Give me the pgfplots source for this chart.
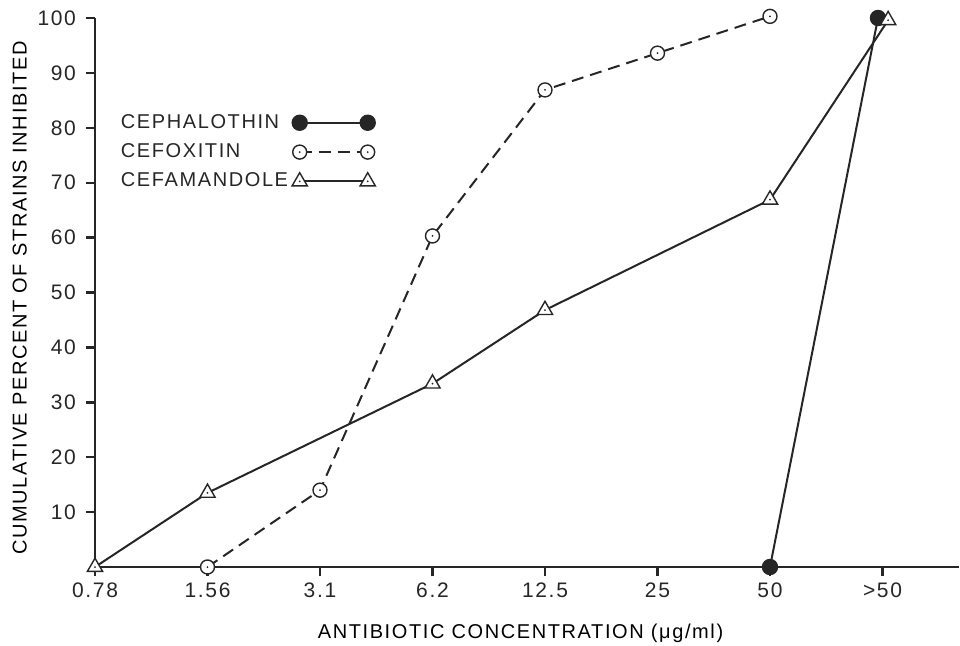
\documentclass[border=0pt]{standalone}
\usepackage{pgfplots}
\pgfplotsset{compat=1.18}
\usepackage{fontspec}
\setmainfont{Liberation Sans}[LetterSpace=8]
\definecolor{ink}{RGB}{38,38,38}

\pgfdeclareplotmark{dotcircle}{%
  \pgfpathcircle{\pgfpointorigin}{\pgfplotmarksize}%
  \pgfusepathqfillstroke
  \pgfscope
  \pgfsetfillcolor{ink}%
  \pgfpathcircle{\pgfpointorigin}{0.5pt}%
  \pgfusepathqfill
  \endpgfscope
}
\pgfdeclareplotmark{dottri}{%
  \pgfpathmoveto{\pgfqpoint{0pt}{\pgfplotmarksize}}%
  \pgfpathlineto{\pgfqpoint{-0.866\pgfplotmarksize}{-0.5\pgfplotmarksize}}%
  \pgfpathlineto{\pgfqpoint{0.866\pgfplotmarksize}{-0.5\pgfplotmarksize}}%
  \pgfpathclose
  \pgfusepathqfillstroke
  \pgfscope
  \pgfsetfillcolor{ink}%
  \pgfpathcircle{\pgfpointorigin}{0.5pt}%
  \pgfusepathqfill
  \endpgfscope
}

\begin{document}
\begin{tikzpicture}
\begin{axis}[
  scale only axis, width=432pt, height=274.5pt,
  xmin=0, xmax=7.68, ymin=0, ymax=100,
  axis x line=bottom, axis y line=left,
  axis line style={-, line width=1.3pt, ink},
  xtick={0,...,7},
  xticklabels={0.78,1.56,3.1,6.2,12.5,25,50,>50},
  ytick={10,20,...,100},
  tick align=outside, major tick length=4.5pt,
  tick style={line width=1.2pt, ink},
  /pgf/number format/assume math mode=true,
  ticklabel style={font=\fontsize{10.5}{12}\selectfont, text=ink},
  yticklabel style={xshift=-1.5pt},
  label style={font=\fontsize{10}{12}\selectfont, text=ink},
  every axis y label/.style={at={(axis description cs:-0.087,0.49)}, rotate=90, anchor=center},
  every axis x label/.style={at={(axis description cs:0.4925,-0.120)}, anchor=center},
  xlabel={ANTIBIOTIC CONCENTRATION (μg/ml)},
  ylabel={CUMULATIVE PERCENT OF STRAINS INHIBITED},
  clip=false,
  legend plot pos=right,
  legend cell align=left,
  legend image code/.code={\draw[#1] plot coordinates {(0pt,0pt) (34pt,0pt)};},
  legend style={at={(axis description cs:0.018,0.84)}, anchor=north west,
    draw=none, fill=none, font=\fontsize{10}{12}\selectfont, text=ink,
    row sep=2.2pt, /tikz/every even column/.append style={column sep=1pt}},
]
\addplot[ink, line width=1pt, mark=*, mark size=3.6pt, mark options={solid, fill=ink}]
  coordinates {(6,0) (6.96,100)};
\addlegendentry{CEPHALOTHIN}
\addplot[ink, line width=1pt, dash pattern=on 6pt off 3.5pt, mark=dotcircle, mark size=3.5pt, mark options={solid, fill=white, line width=0.7pt}]
  coordinates {(1,0) (2,14) (3,60.3) (4,86.9) (5,93.6) (6,100.3)};
\addlegendentry{CEFOXITIN}
\addplot[ink, line width=1pt, mark=dottri, mark size=4.4pt, mark options={solid, fill=white, line width=0.7pt}]
  coordinates {(0,0) (1,13.5) (3,33.4) (4,46.8) (6,66.9) (7.05,99.6)};
\addlegendentry{CEFAMANDOLE}
\end{axis}
\pgfresetboundingbox
\path[use as bounding box] (current axis.south west) ++(-47.5pt,-39pt) rectangle ++(480pt,322.5pt);
\end{tikzpicture}
\end{document}
